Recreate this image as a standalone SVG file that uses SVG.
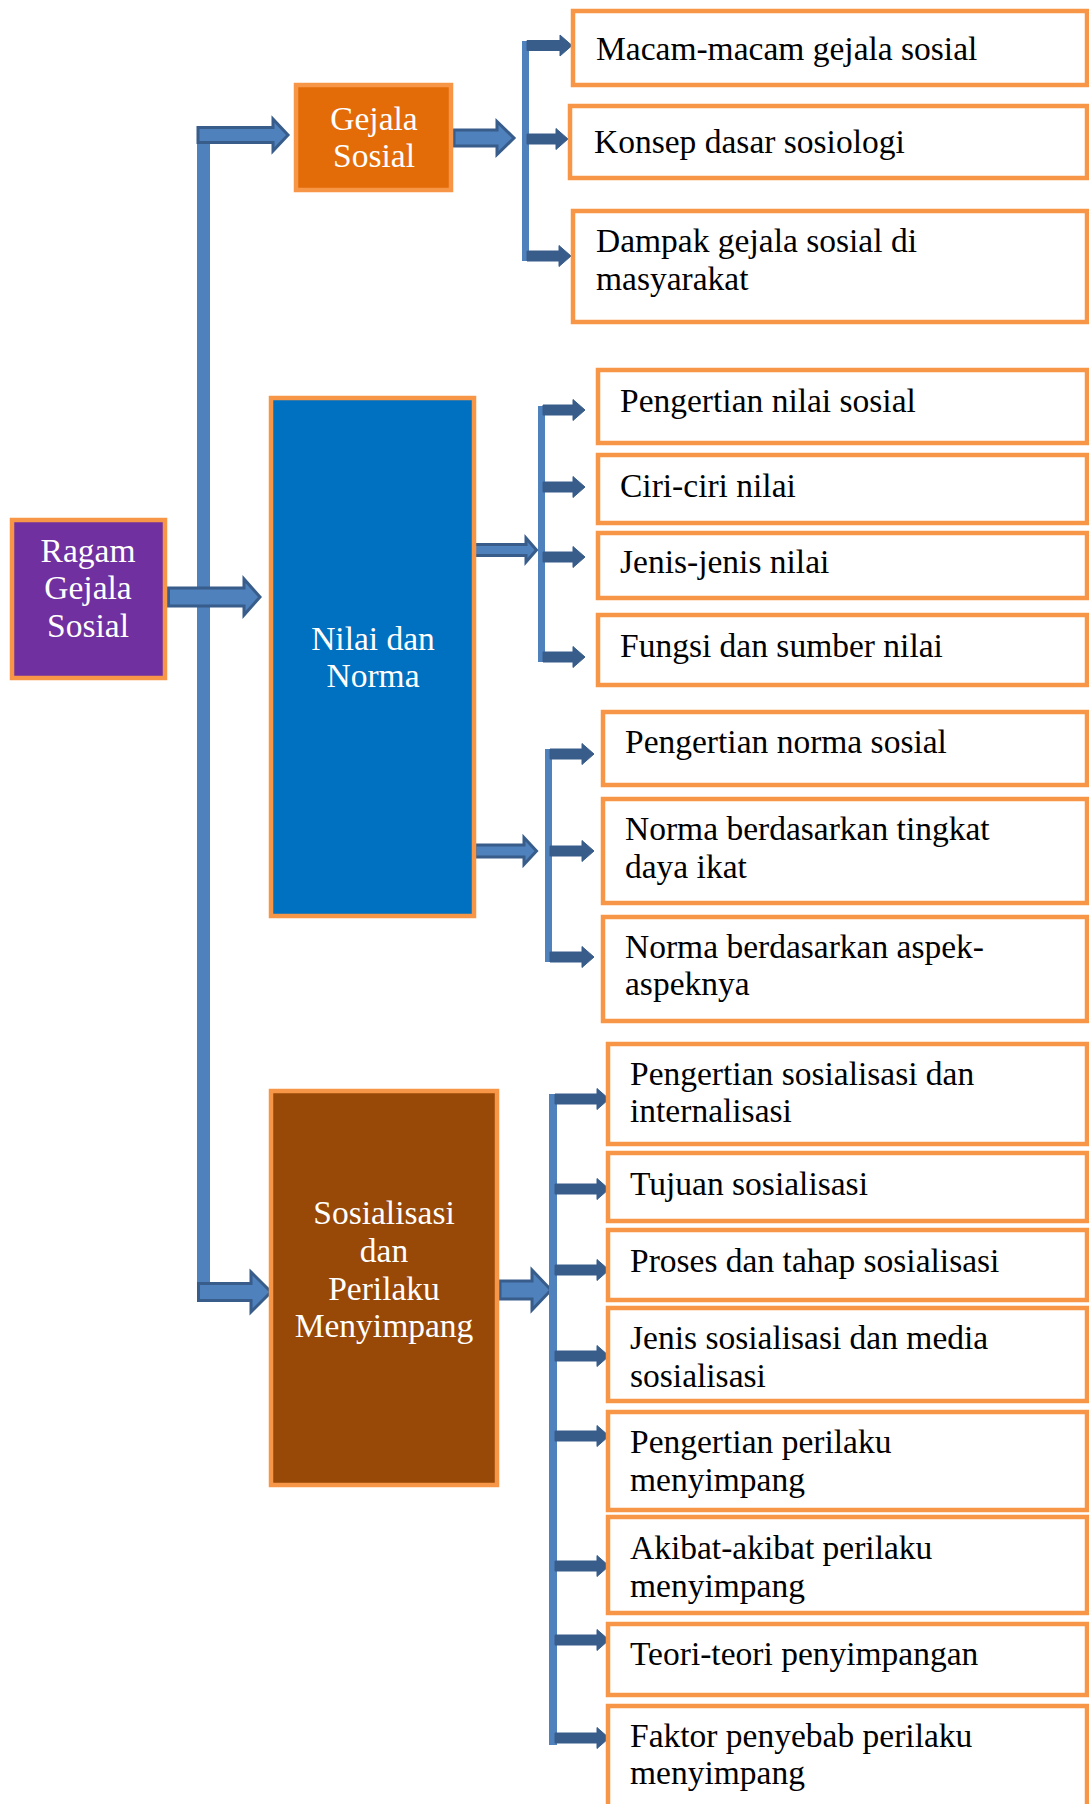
<svg xmlns="http://www.w3.org/2000/svg" width="1089" height="1804" viewBox="0 0 1089 1804">
<style>
.box{fill:#FFFFFF;stroke:#F79646;stroke-width:4.5}
.node{stroke:#F79646;stroke-width:4.5}
.t{font-family:"Liberation Serif","Times New Roman",serif;font-size:33.5px;fill:#000000}
.w{font-family:"Liberation Serif","Times New Roman",serif;font-size:33.5px;fill:#FFFFFF;text-anchor:middle}
.big{fill:#4F81BD;stroke:#385D8A;stroke-width:3;stroke-linejoin:miter}
.small{fill:#385D8A;stroke:#385D8A;stroke-width:1}
.line{fill:#4F81BD}
</style>
<rect width="1089" height="1804" fill="#FFFFFF"/>

<g id="connectors">
  <rect class="line" x="197" y="126" width="13" height="1176"/>
  <path class="big" d="M198,127.5 H273 V119 L288,135 L273,151 V142.5 H198 Z"/>
  <path class="big" d="M168.5,588 H244 V579 L260,597 L244,615 V606 H168.5 Z"/>
  <path class="big" d="M198.5,1283.5 H251 V1272 L271,1292 L251,1312 V1300.5 H198.5 Z"/>
  <path class="big" d="M454,130 H497 V121.5 L514,138 L497,154.5 V146 H454 Z"/>
  <path class="big" d="M473,544.5 H526 V538 L536.5,550 L526,562 V555.5 H473 Z"/>
  <path class="big" d="M475,845 H524 V837.5 L536.5,851 L524,864.5 V857 H475 Z"/>
  <path class="big" d="M500,1281 H532 V1270 L551,1290 L532,1310 V1299 H500 Z"/>

  <rect class="line" x="522" y="41" width="7" height="220"/>
  <path class="small" d="M527,40.5 H560 V35 L572,45.5 L560,56 V50.5 H527 Z"/>
  <path class="small" d="M527,134 H556 V128.5 L568,139 L556,149.5 V144 H527 Z"/>
  <path class="small" d="M527,251 H559 V245.5 L571,256 L559,266.5 V261 H527 Z"/>

  <rect class="line" x="538" y="406" width="7" height="256"/>
  <path class="small" d="M543,405 H573 V399.5 L585,410 L573,420.5 V415 H543 Z"/>
  <path class="small" d="M543,482 H573 V476.5 L585,487 L573,497.5 V492 H543 Z"/>
  <path class="small" d="M543,552 H573 V546.5 L585,557 L573,567.5 V562 H543 Z"/>
  <path class="small" d="M543,652 H573 V646.5 L585,657 L573,667.5 V662 H543 Z"/>

  <rect class="line" x="545" y="749" width="7" height="213"/>
  <path class="small" d="M550,749 H582 V743.5 L594,754 L582,764.5 V759 H550 Z"/>
  <path class="small" d="M550,846 H582 V840.5 L594,851 L582,861.5 V856 H550 Z"/>
  <path class="small" d="M550,952 H582 V946.5 L594,957 L582,967.5 V962 H550 Z"/>

  <rect class="line" x="549" y="1094" width="8" height="651"/>
  <path class="small" d="M555,1094 H597 V1088.5 L609,1099 L597,1109.5 V1104 H555 Z"/>
  <path class="small" d="M555,1184 H597 V1178.5 L609,1189 L597,1199.5 V1194 H555 Z"/>
  <path class="small" d="M555,1265 H597 V1259.5 L609,1270 L597,1280.5 V1275 H555 Z"/>
  <path class="small" d="M555,1351 H597 V1345.5 L609,1356 L597,1366.5 V1361 H555 Z"/>
  <path class="small" d="M555,1431 H597 V1425.5 L609,1436 L597,1446.5 V1441 H555 Z"/>
  <path class="small" d="M555,1561 H597 V1555.5 L609,1566 L597,1576.5 V1571 H555 Z"/>
  <path class="small" d="M555,1635 H597 V1629.5 L609,1640 L597,1650.5 V1645 H555 Z"/>
  <path class="small" d="M555,1733 H597 V1727.5 L609,1738 L597,1748.5 V1743 H555 Z"/>
</g>

<g id="ragam">
  <rect class="node" x="12" y="520" width="153" height="158" fill="#7030A0"/>
  <text class="w" x="88" y="562">Ragam</text>
  <text class="w" x="88" y="599">Gejala</text>
  <text class="w" x="88" y="637">Sosial</text>
</g>
<g id="gejala">
  <rect class="node" x="296" y="85" width="155" height="105" fill="#E36C09"/>
  <text class="w" x="374" y="130">Gejala</text>
  <text class="w" x="374" y="167">Sosial</text>
</g>
<g id="nilai">
  <rect class="node" x="271" y="398" width="203" height="518" fill="#0070C0"/>
  <text class="w" x="373" y="650">Nilai dan</text>
  <text class="w" x="373" y="687">Norma</text>
</g>
<g id="sosialisasi">
  <rect class="node" x="271" y="1091" width="226" height="394" fill="#984807"/>
  <text class="w" x="384" y="1224">Sosialisasi</text>
  <text class="w" x="384" y="1262">dan</text>
  <text class="w" x="384" y="1300">Perilaku</text>
  <text class="w" x="384" y="1337">Menyimpang</text>
</g>

<g id="b1"><rect class="box" x="573" y="11" width="514" height="74"/><text class="t" x="596" y="60">Macam-macam gejala sosial</text></g>
<g id="b2"><rect class="box" x="570" y="106" width="517" height="72"/><text class="t" x="594" y="153">Konsep dasar sosiologi</text></g>
<g id="b3"><rect class="box" x="573" y="211" width="514" height="111"/><text class="t" x="596" y="252">Dampak gejala sosial di</text><text class="t" x="596" y="290">masyarakat</text></g>

<g id="n1"><rect class="box" x="598" y="370" width="489" height="73"/><text class="t" x="620" y="412">Pengertian nilai sosial</text></g>
<g id="n2"><rect class="box" x="598" y="455" width="489" height="68"/><text class="t" x="620" y="497">Ciri-ciri nilai</text></g>
<g id="n3"><rect class="box" x="598" y="533" width="489" height="65"/><text class="t" x="620" y="573">Jenis-jenis nilai</text></g>
<g id="n4"><rect class="box" x="598" y="615" width="489" height="70"/><text class="t" x="620" y="657">Fungsi dan sumber nilai</text></g>

<g id="m1"><rect class="box" x="603" y="712" width="484" height="73"/><text class="t" x="625" y="753">Pengertian norma sosial</text></g>
<g id="m2"><rect class="box" x="603" y="799" width="484" height="104"/><text class="t" x="625" y="840">Norma berdasarkan tingkat</text><text class="t" x="625" y="878">daya ikat</text></g>
<g id="m3"><rect class="box" x="603" y="917" width="484" height="104"/><text class="t" x="625" y="958">Norma berdasarkan aspek-</text><text class="t" x="625" y="995">aspeknya</text></g>

<g id="s1"><rect class="box" x="608" y="1044" width="479" height="100"/><text class="t" x="630" y="1085">Pengertian sosialisasi dan</text><text class="t" x="630" y="1122">internalisasi</text></g>
<g id="s2"><rect class="box" x="608" y="1153" width="479" height="68"/><text class="t" x="630" y="1195">Tujuan sosialisasi</text></g>
<g id="s3"><rect class="box" x="608" y="1230" width="479" height="70"/><text class="t" x="630" y="1272">Proses dan tahap sosialisasi</text></g>
<g id="s4"><rect class="box" x="608" y="1308" width="479" height="93"/><text class="t" x="630" y="1349">Jenis sosialisasi dan media</text><text class="t" x="630" y="1387">sosialisasi</text></g>
<g id="s5"><rect class="box" x="608" y="1412" width="479" height="98"/><text class="t" x="630" y="1453">Pengertian perilaku</text><text class="t" x="630" y="1491">menyimpang</text></g>
<g id="s6"><rect class="box" x="608" y="1517" width="479" height="96"/><text class="t" x="630" y="1559">Akibat-akibat perilaku</text><text class="t" x="630" y="1597">menyimpang</text></g>
<g id="s7"><rect class="box" x="608" y="1624" width="479" height="71"/><text class="t" x="630" y="1665">Teori-teori penyimpangan</text></g>
<g id="s8"><rect class="box" x="608" y="1706" width="479" height="120"/><text class="t" x="630" y="1747">Faktor penyebab perilaku</text><text class="t" x="630" y="1784">menyimpang</text></g>
</svg>
